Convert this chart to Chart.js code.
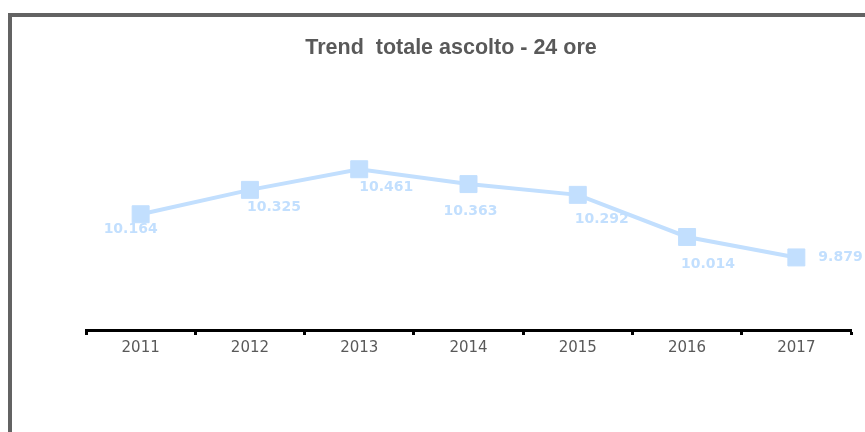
<!DOCTYPE html>
<html>
<head>
<meta charset="utf-8">
<script src="https://cdn.jsdelivr.net/npm/chart.js@4/dist/chart.umd.min.js"></script>
<style>
  html, body { margin: 0; padding: 0; background: #fff; }
  #wrap { width: 865px; height: 432px; position: relative; }
</style>
</head>
<body>
<div id="wrap"><canvas id="chart"></canvas></div>
<script>
// data
const years = ['2011', '2012', '2013', '2014', '2015', '2016', '2017'];
const ascolto = [10.164, 10.325, 10.461, 10.363, 10.292, 10.014, 9.879];
const valueLabels = ['10.164', '10.325', '10.461', '10.363', '10.292', '10.014', '9.879'];
const chartTitle = 'Trend  totale ascolto - 24 ore';

// where each value label sits relative to its point (dx, dy, align)
const labelPlacement = [
    [-10, 15, 'center'], [24, 18, 'center'], [27, 18, 'center'], [2, 27, 'center'],
    [24, 25, 'center'], [21, 27, 'center'], [22, 0, 'left']
];

const lineBlue = '#c2dffe';

const framePlugin = {
    id: 'frame',
    beforeDraw(chart) {
        const ctx = chart.ctx;
        ctx.save();
        ctx.fillStyle = '#fff';
        ctx.fillRect(0, 0, chart.width, chart.height);
        ctx.fillStyle = '#636363';
        ctx.fillRect(8, 13, 4, chart.height - 13);
        ctx.fillRect(8, 13, chart.width - 8, 4);
        // title
        ctx.fillStyle = '#595959';
        ctx.font = 'bold 21.5px "Liberation Sans", Arial, sans-serif';
        ctx.textAlign = 'center';
        ctx.textBaseline = 'middle';
        ctx.fillText(chartTitle, 451, 48);
        ctx.restore();
    }
};

const valueLabelPlugin = {
    id: 'valueLabels',
    afterDatasetsDraw(chart) {
        const ctx = chart.ctx;
        const pts = chart.getDatasetMeta(0).data;
        ctx.save();
        ctx.fillStyle = lineBlue;
        ctx.font = 'bold 14px "DejaVu Sans", Verdana, sans-serif';
        ctx.textBaseline = 'middle';
        pts.forEach((p, i) => {
            const [dx, dy, align] = labelPlacement[i];
            ctx.textAlign = align;
            ctx.fillText(valueLabels[i], p.x + dx, p.y + dy);
        });
        ctx.restore();
    }
};

new Chart(document.getElementById('chart').getContext('2d'), {
    type: 'line',
    data: {
        labels: years,
        datasets: [{
            label: 'Ascolto',
            data: ascolto,
            borderColor: lineBlue,
            backgroundColor: lineBlue,
            borderWidth: 4,
            pointStyle: 'rect',
            pointRadius: 12,
            pointHoverRadius: 12,
            pointBorderWidth: 1,
            pointBorderColor: lineBlue,
            pointBackgroundColor: lineBlue,
            tension: 0
        }]
    },
    options: {
        responsive: true,
        maintainAspectRatio: false,
        animation: false,
        layout: { padding: { left: 86, right: 14, top: 80, bottom: 71 } },
        plugins: {
            legend: { display: false },
            title: { display: false },
            tooltip: { enabled: false }
        },
        scales: {
            x: {
                offset: true,
                grid: {
                    display: true,
                    offset: true,
                    drawOnChartArea: false,
                    drawTicks: true,
                    tickLength: 5,
                    tickWidth: 3,
                    tickColor: '#000'
                },
                border: { display: true, color: '#000', width: 3 },
                ticks: {
                    color: '#595959',
                    font: { family: '"DejaVu Sans", Verdana, sans-serif', size: 15 },
                    padding: 4,
                    maxRotation: 0
                }
            },
            y: {
                display: false,
                min: 9.4,
                max: 11.05
            }
        }
    },
    plugins: [framePlugin, valueLabelPlugin]
});
</script>
</body>
</html>
